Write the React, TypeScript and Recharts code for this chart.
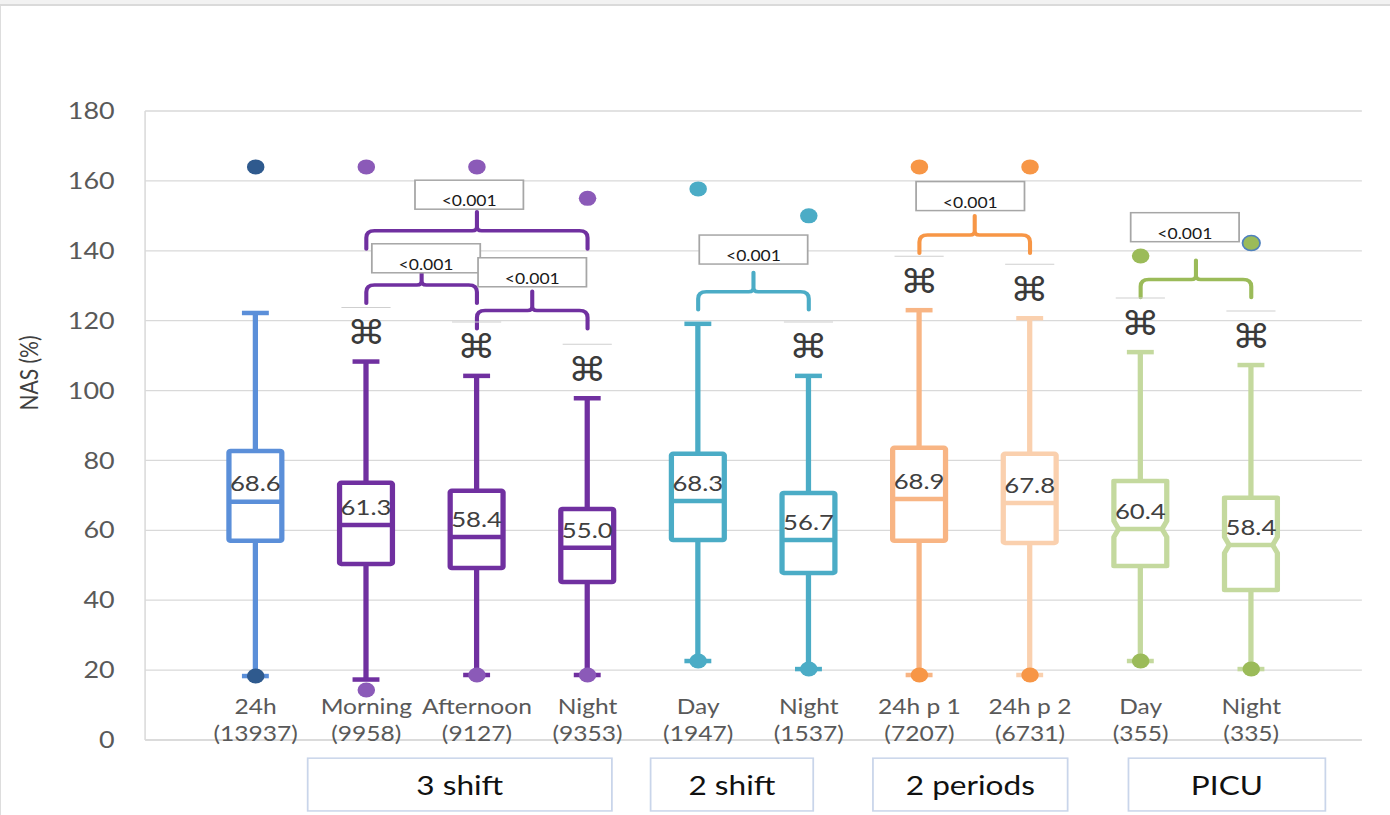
import React from "react";
import { ComposedChart, Bar, Scatter, XAxis, YAxis, CartesianGrid, ReferenceArea } from "recharts";

// categories on the x axis (placed at x = 1..10)
const categories = ["24h", "Morning", "Afternoon", "Night", "Day", "Night", "24h p 1", "24h p 2", "Day", "Night"];
const counts = ["13937", "9958", "9127", "9353", "1947", "1537", "7207", "6731", "355", "335"];

// box plot values, NAS (%)
const whiskerLow = [18.3, 17.3, 18.6, 18.6, 22.6, 20.3, 18.6, 18.6, 22.6, 20.3];
const q1 = [57, 50.4, 49.2, 45.2, 57.2, 47.8, 57, 56.4, 49.8, 42.9];
const median = [68.2, 61.5, 58.1, 55, 68.4, 57.2, 69, 67.8, 60.4, 55.8];
const q3 = [82.7, 73.6, 71.3, 66.1, 81.9, 70.7, 83.6, 81.9, 74.1, 69.3];
const whiskerHigh = [122.2, 108.3, 104.2, 97.8, 119.1, 104.2, 123, 120.7, 111, 107.3];
const meanLabels = ["68.6", "61.3", "58.4", "55.0", "68.3", "56.7", "68.9", "67.8", "60.4", "58.4"];
const highOutliers = [164, 164, 164, 155, 157.7, 150, 164, 164, 138.5, 142.2];
const lowOutliers = [18.3, 14.3, 18.6, 18.6, 22.6, 20.3, 18.6, 18.6, 22.6, 20.3];
const marked = [false, true, true, true, false, true, true, true, true, true];

// groups under the axis
const groupNames = ["3 shift", "2 shift", "2 periods", "PICU"];
const groupFrom = [2, 5, 7, 9];
const groupTo = [4, 6, 8, 10];

// pairwise comparisons
const compareFrom = [2, 2, 3, 5, 7, 9];
const compareTo = [4, 3, 4, 6, 8, 10];
const pValues = ["<0.001", "<0.001", "<0.001", "<0.001", "<0.001", "<0.001"];

const yTicks = [0, 20, 40, 60, 80, 100, 120, 140, 160, 180];
const xTicks = [1, 2, 3, 4, 5, 6, 7, 8, 9, 10];

// styling / layout
const boxColor = ["#5B8FD9", "#7030A0", "#7030A0", "#7030A0", "#4BACC6", "#4BACC6", "#F8B584", "#FAD0AE", "#C4D99E", "#C4D99E"];
const dotColor = ["#2F5A8E", "#8B5AB8", "#8B5AB8", "#8B5AB8", "#4BACC6", "#4BACC6", "#F79646", "#F79646", "#9BBB59", "#9BBB59"];
const highDotStroke = ["none", "none", "none", "none", "none", "none", "none", "none", "none", "#4F81BD"];
const notched = [false, false, false, false, false, false, false, false, true, true];
const compareColor = ["#7030A0", "#7030A0", "#7030A0", "#4BACC6", "#F79646", "#9BBB59"];
const compareLevel = [145.7, 130.2, 122.9, 128.3, 144.5, 131.8];
const compareBoxBottom = [151.9, 133.7, 129.7, 136.2, 151.5, 142.6];
const compareBoxShift = [-0.07, 0.04, 0, 0, -0.04, -0.1];
const groupPad = [[-0.53, 0.22], [-0.43, 0.04], [-0.42, 0.34], [-0.11, 0.67]];

const FONT = "Lato, 'DejaVu Sans', sans-serif";
const STRETCH = 1.17;
const END_DROP = 5.2;
const TIP_RISE = 5.5;

const rows = categories.map((c, i) => ({
	x: i + 1,
	range: [whiskerLow[i], whiskerHigh[i]],
	low: whiskerLow[i],
	q1: q1[i],
	median: median[i],
	q3: q3[i],
	high: whiskerHigh[i],
}));

const outliers = [
	...highOutliers.map((v, i) => ({ x: i + 1, y: v, i, high: true })),
	...lowOutliers.map((v, i) => ({ x: i + 1, y: v, i, high: false })),
];

const BoxShape = (props: any) => {
	const { x, y, width, height, payload } = props;
	const d = payload;
	const i = d.x - 1;
	const color = boxColor[i];
	const cx = x + width / 2;
	const ppu = height / (d.high - d.low);
	const py = (v: number) => y + (d.high - v) * ppu;
	const hw = 22.6;
	const cap = 11.5;
	const top = py(d.q3);
	const bottom = py(d.q1);
	const med = py(d.median);
	let box;
	if (notched[i]) {
		const n = 8;
		const dep = 4;
		box = (
			<path
				d={`M${cx - hw},${top} L${cx + hw},${top} L${cx + hw},${med - n} L${cx + hw - dep},${med} L${cx + hw},${med + n} L${cx + hw},${bottom} L${cx - hw},${bottom} L${cx - hw},${med + n} L${cx - hw + dep},${med} L${cx - hw},${med - n} Z`}
				fill="#fff" stroke={color} strokeWidth={4.5} strokeLinejoin="round"
			/>
		);
	} else {
		box = <rect x={cx - hw} y={top} width={hw * 2} height={bottom - top} fill="#fff" stroke={color} strokeWidth={4.5} rx={1.5} />;
	}
	return (
		<g>
			<line x1={cx} x2={cx} y1={y} y2={y + height} stroke={color} strokeWidth={4.5} />
			<line x1={cx - cap} x2={cx + cap} y1={y} y2={y} stroke={color} strokeWidth={4.5} />
			<line x1={cx - cap} x2={cx + cap} y1={y + height} y2={y + height} stroke={color} strokeWidth={4.5} />
			{box}
			<line x1={cx - hw + (notched[i] ? 4 : 0)} x2={cx + hw - (notched[i] ? 4 : 0)} y1={med} y2={med} stroke={color} strokeWidth={4.5} />
			<text x={cx} y={med - 19} textAnchor="middle" dominantBaseline="central" fontFamily={FONT} fontSize={22} fill="#404040">
				{meanLabels[i]}
			</text>
			{marked[i] && (
				<g>
					<line x1={cx - 21} x2={cx + 21} y1={y - 54} y2={y - 54} stroke="#CFCFCF" strokeWidth={1} />
					<text x={cx} y={y - 29} textAnchor="middle" dominantBaseline="central" fontFamily="'DejaVu Sans'" fontWeight={200} fontSize={33} fill="#3a3a3a">
						⌘
					</text>
				</g>
			)}
		</g>
	);
};

const OutlierDot = (props: any) => {
	const { cx, cy, payload } = props;
	const i = payload.i;
	const stroke = payload.high ? highDotStroke[i] : "none";
	return <circle cx={cx} cy={cy} r={7.5} fill={dotColor[i]} stroke={stroke} strokeWidth={1.5} />;
};

const CategoryTick = (props: any) => {
	const { x, y, payload } = props;
	const i = payload.value - 1;
	if (i < 0 || i >= categories.length) return null;
	return (
		<g fontFamily={FONT} fontSize={21} fill="#595959">
			<text x={x} y={y - 26} textAnchor="middle">{categories[i]}</text>
			<text x={x} y={y + 1} textAnchor="middle">({counts[i]})</text>
		</g>
	);
};

const makeBracket = (k: number) => (props: any) => {
	const { x, y, width, height } = props;
	const barY = y + (height * TIP_RISE) / (TIP_RISE + END_DROP);
	const x1 = x;
	const x2 = x + width;
	const xm = x + width / 2;
	const endY = y + height;
	const r = 7;
	const r2 = 4;
	const dPath = `M${x1},${endY} L${x1},${barY + r} Q${x1},${barY} ${x1 + r},${barY} L${xm - r2},${barY} Q${xm},${barY} ${xm},${barY - r2} L${xm},${y} M${xm},${barY - r2} Q${xm},${barY} ${xm + r2},${barY} L${x2 - r},${barY} Q${x2},${barY} ${x2},${barY + r} L${x2},${endY}`;
	return <path d={dPath} fill="none" stroke={compareColor[k]} strokeWidth={3.5} strokeLinecap="round" />;
};

const makePBox = (k: number) => (props: any) => {
	const { x, y, width, height } = props;
	return (
		<g>
			<rect x={x} y={y} width={width} height={height} fill="#fff" stroke="#A6A6A6" strokeWidth={1.5} />
			<text x={x + width / 2} y={y + height - 3} textAnchor="middle" fontFamily={FONT} fontSize={15} fill="#1a1a1a">
				{pValues[k]}
			</text>
		</g>
	);
};

const makeGroupBox = (k: number) => (props: any) => {
	const { x, y, width, height } = props;
	return (
		<g>
			<rect x={x} y={y} width={width} height={height} fill="#fff" stroke="#C9D5EA" strokeWidth={1.5} />
			<text x={x + width / 2} y={y + height / 2} textAnchor="middle" dominantBaseline="central" fontFamily={FONT} fontSize={27} fill="#111">
				{groupNames[k]}
			</text>
		</g>
	);
};

export default function App() {
	return (
		<div style={{ position: "absolute", left: 0, top: 0, width: 1390, height: 815, background: "#fff", overflow: "hidden" }}>
			<div style={{ position: "absolute", left: 0, top: 0, width: 1390, height: 4, background: "#F2F2F2", borderBottom: "2px solid #DADADA" }} />
			<div style={{ position: "absolute", left: 0, top: 6, width: 1, height: 809, background: "#DDDDDD" }} />
			<div style={{ position: "absolute", left: 0, top: 0, width: 1188, height: 815, transform: `scaleX(${STRETCH})`, transformOrigin: "0 0" }}>
				<ComposedChart width={1188} height={815} data={rows} margin={{ top: 111, right: 24, bottom: 0, left: 0 }}>
					<CartesianGrid vertical={false} stroke="#D9D9D9" strokeWidth={1.3} />
					<XAxis
						type="number"
						dataKey="x"
						domain={[0, 11]}
						ticks={xTicks}
						interval={0}
						height={75}
						tickSize={0}
						tickMargin={0}
						tickLine={false}
						axisLine={{ stroke: "#D9D9D9", strokeWidth: 1.3 }}
						tick={<CategoryTick />}
					/>
					<YAxis
						type="number"
						domain={[0, 180]}
						ticks={yTicks}
						width={124}
						tickSize={0}
						tickMargin={26}
						tickLine={false}
						axisLine={{ stroke: "#D9D9D9", strokeWidth: 1.3 }}
						tick={{ fill: "#595959", fontSize: 23, fontFamily: FONT }}
					/>
					<Bar dataKey="range" barSize={50} shape={<BoxShape />} isAnimationActive={false} />
					<Scatter data={outliers} dataKey="y" shape={<OutlierDot />} isAnimationActive={false} />
					{compareFrom.map((f, k) => (
						<ReferenceArea
							key={`br${k}`}
							x1={f}
							x2={compareTo[k]}
							y1={compareLevel[k] - END_DROP}
							y2={compareLevel[k] + TIP_RISE}
							ifOverflow="visible"
							shape={makeBracket(k)}
						/>
					))}
					{compareFrom.map((f, k) => {
						const mid = (f + compareTo[k]) / 2 + compareBoxShift[k];
						return (
							<ReferenceArea
								key={`pb${k}`}
								x1={mid - 0.49}
								x2={mid + 0.49}
								y1={compareBoxBottom[k]}
								y2={compareBoxBottom[k] + 8.3}
								ifOverflow="visible"
								shape={makePBox(k)}
							/>
						);
					})}
					{groupNames.map((g, k) => (
						<ReferenceArea
							key={`g${k}`}
							x1={groupFrom[k] + groupPad[k][0]}
							x2={groupTo[k] + groupPad[k][1]}
							y1={-20.3}
							y2={-5.2}
							ifOverflow="visible"
							shape={makeGroupBox(k)}
						/>
					))}
				</ComposedChart>
				<svg width={60} height={815} style={{ position: "absolute", left: 0, top: 0, pointerEvents: "none" }}>
					<text x={24} y={373} transform="rotate(-90, 24, 373)" textAnchor="middle" dominantBaseline="central" fontFamily={FONT} fontSize={21} fill="#404040">
						NAS (%)
					</text>
				</svg>
			</div>
		</div>
	);
}
